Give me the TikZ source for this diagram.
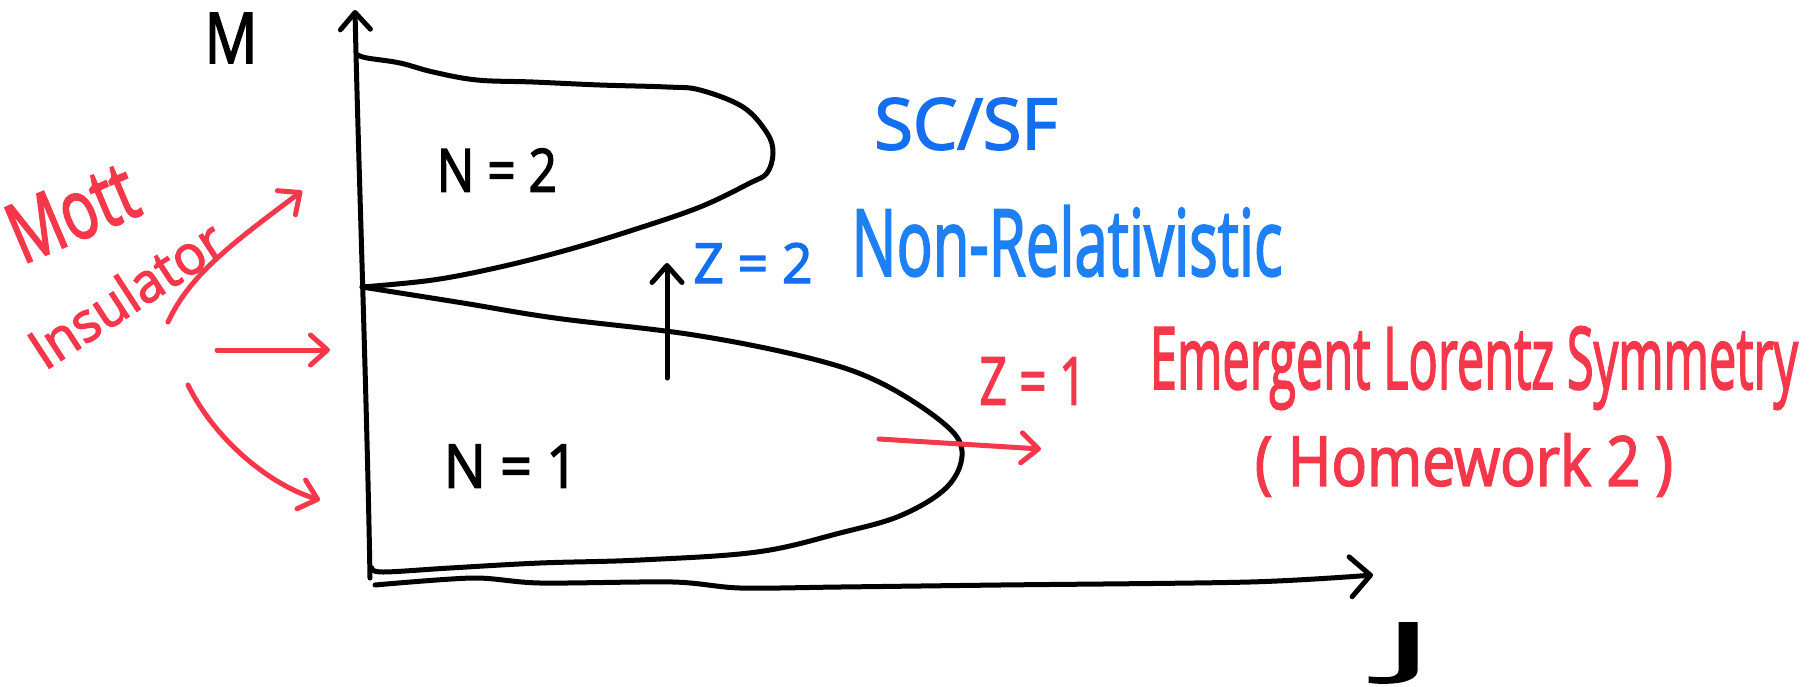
\documentclass[tikz,border=0pt]{standalone}
\usepackage{fontspec}
\setmainfont{Open Sans}
\newfontfamily\inkfont{Open Sans}[FakeBold=2.5]
\usetikzlibrary{arrows.meta}
\definecolor{redink}{RGB}{245,55,75}
\definecolor{blueink}{RGB}{20,110,240}
\definecolor{blueinkb}{RGB}{30,128,245}
\tikzset{
  ink/.style={line width=5pt,line cap=round,line join=round},
  barb/.style={-{Straight Barb[length=17pt,width=30pt,line cap=round,line join=round]}},
  bigbarb/.style={-{Straight Barb[length=20pt,width=40pt,line cap=round,line join=round]}},
  txt/.style={inner sep=0pt,anchor=center,font=\inkfont},
}
\newcommand{\fitbox}[3]{\resizebox*{#1}{#2}{#3}}
\begin{document}
\begin{tikzpicture}[x=1pt,y=-1pt]
\useasboundingbox (0,0) rectangle (1813,686);
% axes
\coordinate (yb) at (370,578);
\coordinate (yt) at (355,10);
\draw[ink,barb] (yb) .. controls (367,400) and (358,150) .. (yt);
\draw[ink,bigbarb] plot[smooth,tension=0.5] coordinates {(375,585) (473,578) (540,583) (673,582) (740,588) (840,587) (1000,585) (1250,582) (1373,575)};
% upper lobe (N=2)
\draw[ink] plot[smooth,tension=0.6] coordinates {(358,55) (367,58) (400,63) (433,72) (477,80) (533,82) (600,85) (667,87) (700,90) (743,107) (767,133) (773,153) (767,173) (750,183) (700,207) (633,230) (567,250) (500,267) (433,280) (362,287)};
% lower lobe (N=1)
\draw[ink] plot[smooth,tension=0.6] coordinates {(362,287) (463,303) (555,318) (694,335) (809,358) (879,382) (942,422) (962,451) (948,486) (902,515) (840,533) (757,552) (640,560) (540,563) (450,568) (383,572) (372,568)};
% labels
\node[txt] (M) at (231,38) {\fitbox{53pt}{50pt}{M}};
\node[txt] (J) at (1408,653) {\fitbox{47pt}{60pt}{J}};
\node[txt] (n2) at (497,170) {\fitbox{120pt}{43pt}{N = 2}};
\node[txt] (n1) at (511,466) {\fitbox{134pt}{43pt}{N = 1}};
% black up arrow
\coordinate (ua) at (667,378);
\coordinate (ub) at (667,263);
\draw[ink,barb] (ua) -- (ub);
% blue texts
\node[txt,text=blueink] (scsf) at (966,124) {\fitbox{183pt}{52pt}{SC/SF}};
\node[txt,text=blueink] (z2) at (753,263) {\fitbox{119pt}{40pt}{Z = 2}};
\node[txt,text=blueinkb] (nonrel) at (1067,241) {\fitbox{431pt}{71pt}{Non-Relativistic}};
% red texts
\node[txt,text=redink] (z1) at (1033,381) {\fitbox{107pt}{47pt}{Z = 1}};
\node[txt,text=redink] (elor) at (1474,368) {\fitbox{648pt}{83pt}{Emergent Lorentz Symmetry}};
\node[txt,text=redink] (hw) at (1464,465) {\fitbox{418pt}{63pt}{( Homework 2 )}};
\node[txt,text=redink,rotate=23] (mott) at (72,212) {\fitbox{132pt}{60pt}{Mott}};
\node[txt,text=redink,rotate=33] (ins) at (126,294) {\fitbox{220pt}{42pt}{Insulator}};
% red arrows
\coordinate (r1a) at (168,322);
\coordinate (r1b) at (302,191);
\draw[ink,redink,barb] (r1a) .. controls (190,275) and (230,245) .. (r1b);
\coordinate (r2a) at (217,350);
\coordinate (r2b) at (330,350);
\draw[ink,redink,barb] (r2a) -- (r2b);
\coordinate (r3a) at (188,385);
\coordinate (r3b) at (320,500);
\draw[ink,redink,barb] (r3a) .. controls (215,440) and (270,485) .. (r3b);
\coordinate (r4a) at (879,439);
\coordinate (r4b) at (1041,449);
\draw[ink,redink,barb] (r4a) -- (r4b);
\end{tikzpicture}
\end{document}
